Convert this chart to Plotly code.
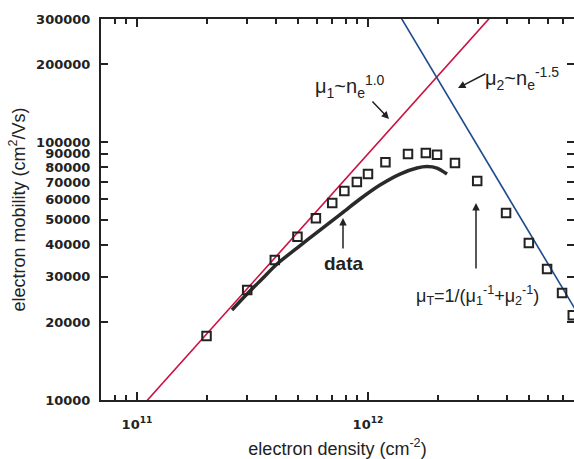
import plotly.graph_objects as go
import math

# Measured data (open squares)
density = [2.0e11, 3.0e11, 3.95e11, 4.95e11, 5.95e11, 7.0e11, 7.9e11, 8.95e11, 1.0e12,
           1.19e12, 1.49e12, 1.78e12, 1.99e12, 2.38e12, 2.97e12, 3.96e12, 4.97e12,
           5.96e12, 6.92e12, 7.7e12]
mobility = [17700, 26700, 34900, 42900, 50700, 58000, 64600, 70000, 75200,
            83600, 89800, 90600, 89200, 83000, 70600, 53100, 40600,
            32200, 26000, 21300]

# Black curve ("data")
curve_n = [2.578e11, 2.995e11, 3.477e11, 4.037e11, 4.927e11, 6.197e11, 7.718e11,
           9.235e11, 1.127e12, 1.376e12, 1.630e12, 1.800e12, 1.989e12, 2.198e12]
curve_mu = [22330, 25750, 29440, 33670, 38820, 45600, 53060,
            60140, 68130, 75160, 79300, 80350, 79300, 75160]

# Power-law guide lines (endpoints)
mu1_n = [1.0e11, 3.5e12]
mu1_v = [9000, 315000]
mu2_n = [1.35e12, 8.0e12]
mu2_v = [317000, 22000]

y_ticks = [10000, 20000, 30000, 40000, 50000, 60000, 70000, 80000, 90000,
           100000, 200000, 300000]
x_ticks = [1e11, 1e12]
x_ticktext = ["10<sup>11</sup>", "10<sup>12</sup>"]
x_minor = [7e10, 8e10, 9e10] + [k * 1e11 for k in range(2, 10)] + [k * 1e12 for k in range(2, 9)]

RED = "#cc1040"
BLUE = "#1f4a8f"
INK = "#222222"

fig = go.Figure()
fig.add_trace(go.Scatter(x=mu1_n, y=mu1_v, mode="lines",
                         line=dict(color=RED, width=1.6), showlegend=False))
fig.add_trace(go.Scatter(x=mu2_n, y=mu2_v, mode="lines",
                         line=dict(color=BLUE, width=1.6), showlegend=False))
fig.add_trace(go.Scatter(x=curve_n, y=curve_mu, mode="lines",
                         line=dict(color="#2a2a2a", width=3.5, shape="spline",
                                   smoothing=0.8),
                         showlegend=False))
fig.add_trace(go.Scatter(x=density, y=mobility, mode="markers",
                         marker=dict(symbol="square-open", size=8.5,
                                     color=INK, line=dict(width=2, color=INK)),
                         showlegend=False))

tickfont = dict(family="DejaVu Sans", size=13, color=INK, weight="bold")

fig.update_xaxes(type="log",
                 range=[math.log10(7e10) - 0.0009, 12.8918],
                 tickvals=x_ticks, ticktext=x_ticktext,
                 ticks="inside", ticklen=8, tickwidth=1.5, tickcolor=INK,
                 minor=dict(tickvals=x_minor, ticks="inside", ticklen=5,
                            tickwidth=1.5, tickcolor=INK, showgrid=False),
                 showline=True, linecolor=INK, linewidth=2, mirror="ticks",
                 showgrid=False, zeroline=False,
                 tickfont=tickfont, ticklabelstandoff=11,
                 title=dict(text="electron density (cm<sup>-2</sup>)",
                            font=dict(family="Liberation Sans", size=18, color=INK),
                            standoff=19))
fig.update_yaxes(type="log",
                 range=[4, math.log10(300000)],
                 tickvals=y_ticks, ticktext=[str(v) for v in y_ticks],
                 ticks="inside", ticklen=7, tickwidth=1.5, tickcolor=INK,
                 showline=True, linecolor=INK, linewidth=2, mirror="ticks",
                 showgrid=False, zeroline=False,
                 tickfont=tickfont, ticklabelstandoff=6,
                 title=dict(text="electron mobility (cm<sup>2</sup>/Vs)",
                            font=dict(family="Liberation Sans", size=18, color=INK),
                            standoff=6))

def px(xp):
    return (xp - 101) / 473.0

def py(yp):
    return (400 - yp) / 381.0

afont = dict(family="Liberation Sans", size=20, color=INK)
anns = [
    # texts
    dict(x=px(350), y=py(86), text="μ<sub>1</sub>~n<sub>e</sub><sup>1.0</sup>",
         showarrow=False, font=afont, xanchor="center", yanchor="middle"),
    dict(x=px(522), y=py(78), text="μ<sub>2</sub>~n<sub>e</sub><sup>-1.5</sup>",
         showarrow=False, font=afont, xanchor="center", yanchor="middle"),
    dict(x=px(344), y=py(263), text="<b>data</b>",
         showarrow=False, font=dict(family="Liberation Sans", size=19, color=INK),
         xanchor="center", yanchor="middle"),
    dict(x=px(477), y=py(295),
         text="μ<sub>T</sub>=1/(μ<sub>1</sub><sup>-1</sup>+μ<sub>2</sub><sup>-1</sup>)",
         showarrow=False, font=dict(family="Liberation Sans", size=18, color=INK),
         xanchor="center", yanchor="middle"),
    # arrows
    dict(x=px(389), y=py(119), ax=-18, ay=-19, text="", showarrow=True,
         arrowhead=2, arrowsize=1, arrowwidth=1.5, arrowcolor=INK),
    dict(x=px(458), y=py(88), ax=29, ay=-15, text="", showarrow=True,
         arrowhead=2, arrowsize=1, arrowwidth=1.5, arrowcolor=INK),
    dict(x=px(343), y=py(218), ax=0, ay=32, text="", showarrow=True,
         arrowhead=2, arrowsize=1, arrowwidth=1.5, arrowcolor=INK),
    dict(x=px(476), y=py(203), ax=0, ay=67, text="", showarrow=True,
         arrowhead=2, arrowsize=1, arrowwidth=1.5, arrowcolor=INK),
]
for a in anns:
    a.setdefault("xref", "paper")
    a.setdefault("yref", "paper")
fig.update_layout(annotations=anns)

fig.update_layout(width=574, height=459,
                  margin=dict(l=101, r=0, t=19, b=59, autoexpand=False),
                  paper_bgcolor="white", plot_bgcolor="white",
                  showlegend=False)

fig.write_html("out.html")
